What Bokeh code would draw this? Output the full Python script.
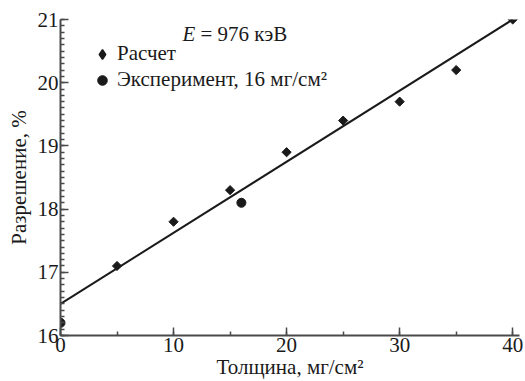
import math
from bokeh.plotting import figure
from bokeh.models import Range1d, SingleIntervalTicker, Legend, LegendItem, Label
from bokeh.embed import file_html
from bokeh.resources import INLINE

# Data
calc_x = [5, 10, 15, 20, 25, 30, 35, 40]
calc_y = [17.1, 17.8, 18.3, 18.9, 19.4, 19.7, 20.2, 21.0]
exp_x = [0, 16]
exp_y = [16.2, 18.1]
fit_x = [0, 40]
fit_y = [16.5, 21.0]

FONT = "Liberation Serif"
INK = "#1a1a1a"
AX = "#4a4a4a"

p = figure(frame_width=459, frame_height=316, output_backend="svg", toolbar_location=None,
           x_range=Range1d(0, 40.6), y_range=Range1d(16, 21),
           min_border_left=60, min_border_right=4, min_border_top=19, min_border_bottom=40)
p.outline_line_color = None
p.grid.visible = False
p.background_fill_color = "white"

fit = p.line(fit_x, fit_y, line_color=INK, line_width=2)
r_calc = p.scatter(calc_x, calc_y, marker="square", angle=math.pi / 4, size=6.5,
                   fill_color=INK, line_color=INK, line_width=1)
r_exp = p.scatter(exp_x, exp_y, marker="circle", size=9, fill_color=INK, line_color=INK)
# legend proxy (diamond shape for the legend swatch), not drawn in the plot
r_calc_leg = p.scatter(calc_x, calc_y, marker="diamond", size=10,
                       fill_color=INK, line_color=INK, line_width=1.5, visible=False)

for ax in (p.xaxis[0], p.yaxis[0]):
    ax.axis_line_color = AX
    ax.axis_line_width = 2
    ax.major_tick_line_color = AX
    ax.minor_tick_line_color = AX
    ax.major_tick_line_width = 1.5
    ax.minor_tick_line_width = 1.5
    ax.major_tick_in = 8
    ax.major_tick_out = 0
    ax.minor_tick_in = 4
    ax.minor_tick_out = 0
    ax.major_label_text_font = FONT
    ax.major_label_text_font_size = "21px"
    ax.major_label_text_color = INK
    ax.axis_label_text_font = FONT
    ax.axis_label_text_font_size = "21px"
    ax.axis_label_text_font_style = "normal"
    ax.axis_label_text_color = INK

p.xaxis.ticker = SingleIntervalTicker(interval=10, num_minor_ticks=2)
p.yaxis.ticker = SingleIntervalTicker(interval=1, num_minor_ticks=10)
p.xaxis.axis_label = "Толщина, мг/см²"
p.yaxis.axis_label = "Разрешение, %"
p.xaxis.major_label_standoff = 2
p.yaxis.major_label_standoff = 2
p.xaxis.axis_label_standoff = 0
p.yaxis.axis_label_standoff = 4

legend = Legend(items=[LegendItem(label="Расчет", renderers=[r_calc_leg]),
                       LegendItem(label="Эксперимент, 16 мг/см²", renderers=[r_exp])],
                location=(30, 243), border_line_alpha=0, background_fill_alpha=0,
                label_text_font=FONT, label_text_font_size="21px", label_text_color=INK,
                glyph_width=24, glyph_height=24, label_standoff=3, spacing=1,
                padding=0, margin=0)
p.add_layout(legend, "center")

lab_e = Label(x=122, y=290, x_units="screen", y_units="screen", text="E",
              text_font=FONT, text_font_size="21px", text_font_style="italic",
              text_color=INK)
lab_rest = Label(x=140, y=290, x_units="screen", y_units="screen", text="= 976 кэВ",
                 text_font=FONT, text_font_size="21px", text_color=INK)
p.add_layout(lab_e)
p.add_layout(lab_rest)

open("out.html", "w").write(file_html(p, INLINE))
